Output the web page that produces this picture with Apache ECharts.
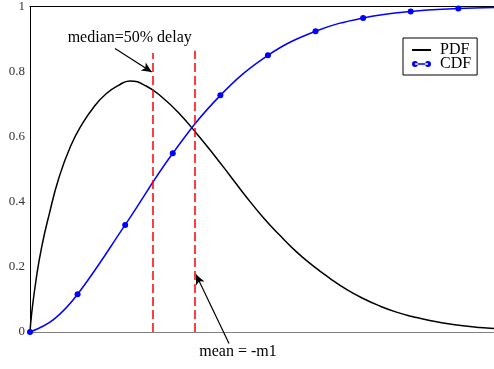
<!DOCTYPE html>
<html>
<head>
<meta charset="utf-8">
<title>PDF / CDF</title>
<script src="https://cdn.jsdelivr.net/npm/echarts@6/dist/echarts.min.js"></script>
<style>
  html, body { margin: 0; padding: 0; background: #fff; }
  #chartBox { width: 494px; height: 369px; }
</style>
</head>
<body>
<div id="chartBox"></div>
<script>
// PDF curve (x in marker steps)
var pdfX = [0, 0.035, 0.126, 0.245, 0.406, 0.6, 0.85, 1.1, 1.35, 1.6, 1.85, 2.1, 2.45, 2.8, 3.15, 3.5, 3.85, 4.2, 4.55, 4.9, 5.25, 5.6, 5.95, 6.3, 6.65, 7.0, 7.35, 7.7, 8.05, 8.4, 8.75, 9.1, 9.45, 9.75];
var pdfY = [0, 0.057, 0.159, 0.261, 0.363, 0.47, 0.57, 0.64, 0.693, 0.732, 0.757, 0.771, 0.755, 0.718, 0.669, 0.61, 0.547, 0.481, 0.414, 0.352, 0.297, 0.246, 0.203, 0.165, 0.131, 0.103, 0.08, 0.061, 0.047, 0.035, 0.026, 0.019, 0.014, 0.011];

// CDF curve, markers sit on the whole steps
var cdfX = [0, 0.5, 1, 2, 3, 4, 5, 6, 7, 8, 9, 9.75];
var cdfY = [0, 0.039, 0.116, 0.329, 0.549, 0.727, 0.85, 0.924, 0.965, 0.985, 0.994, 0.997];

// dashed markers: median and mean
var medianX = 2.585, medianTop = 0.857;
var meanX = 3.467, meanTop = 0.864;

// annotation arrows [tail, head]
var medianArrow = [[1.786, 0.871], [2.557, 0.799]];
var meanArrow = [[4.182, -0.035], [3.488, 0.177]];
var medianText = [2.095, 0.905];
var meanText = [4.371, -0.061];

var font = "'Liberation Serif', 'Times New Roman', serif";

// legend icon for CDF: line with a dot on each end
var cdfIcon =
  "path://M3,2.25 L16,2.25 L16,3.75 L3,3.75 Z" +
  " M0,3 A3,3 0 1,0 6,3 A3,3 0 1,0 0,3 Z" +
  " M13,3 A3,3 0 1,0 19,3 A3,3 0 1,0 13,3 Z";

var chart = echarts.init(document.getElementById("chartBox"));

var pdfData = pdfX.map(function (x, i) {
  return [x, pdfY[i]];
});
var cdfData = cdfX.map(function (x, i) {
  var item = { value: [x, cdfY[i]] };
  if (!Number.isInteger(x)) item.symbol = "none"; // only whole steps get a dot
  return item;
});

var option = {
  animation: false,
  textStyle: { fontFamily: font },
  grid: { left: 30, top: 5, right: 0, bottom: 37 },
  legend: {
    data: [
      { name: "PDF", itemStyle: { opacity: 0 } },
      { name: "CDF", icon: cdfIcon },
    ],
    orient: "vertical",
    left: 403,
    top: 38,
    padding: [4, 6, 3, 8],
    itemGap: -2,
    itemWidth: 19,
    itemHeight: 6,
    borderColor: "#000",
    borderWidth: 1,
    backgroundColor: "#fff",
    textStyle: { fontFamily: font, fontSize: 16, color: "#000", padding: [0, 0, 0, 4] },
  },
  xAxis: [
    {
      type: "value",
      min: 0,
      max: 9.75,
      axisLine: { lineStyle: { color: "#808080", width: 1 } },
      axisTick: { show: false },
      axisLabel: { show: false },
      splitLine: { show: false },
    },
    {
      // top frame line only
      type: "value",
      position: "top",
      min: 0,
      max: 9.75,
      axisLine: { show: true, lineStyle: { color: "#000", width: 1 } },
      axisTick: { show: false },
      axisLabel: { show: false },
      splitLine: { show: false },
    },
  ],
  yAxis: {
    type: "value",
    min: 0,
    max: 1,
    interval: 0.2,
    axisLine: { show: true, lineStyle: { color: "#000", width: 1 } },
    axisTick: { show: false },
    splitLine: { show: false },
    axisLabel: { fontFamily: font, fontSize: 13, color: "#333", margin: 5 },
  },
  series: [
    {
      name: "PDF",
      type: "line",
      data: pdfData,
      smooth: 0.5,
      showSymbol: false,
      symbol: "none",
      lineStyle: { color: "#000", width: 1.5 },
      itemStyle: { color: "#000" },
    },
    {
      name: "CDF",
      type: "line",
      data: cdfData,
      smooth: 0.4,
      symbol: "circle",
      symbolSize: 6,
      lineStyle: { color: "#0000ff", width: 1.5 },
      itemStyle: { color: "#0000ff" },
    },
    {
      // red dashed median / mean lines
      name: "marks",
      type: "line",
      data: [],
      markLine: {
        silent: true,
        symbol: ["none", "none"],
        label: { show: false },
        lineStyle: { color: "#ff0000", width: 1.5, type: [9, 4] },
        data: [
          [{ coord: [medianX, 0] }, { coord: [medianX, medianTop] }],
          [{ coord: [meanX, 0] }, { coord: [meanX, meanTop] }],
        ],
      },
    },
  ],
};

chart.setOption(option);

// arrows and their texts placed through the axes
function px(p) {
  return chart.convertToPixel({ gridIndex: 0 }, p);
}
function arrow(a) {
  var t = px(a[0]), h = px(a[1]);
  return [{ x: t[0], y: t[1] }, { x: h[0], y: h[1] }];
}
var mt = px(medianText), nt = px(meanText);

chart.setOption({
  series: [
    {},
    {},
    {},
    {
      name: "arrows",
      type: "line",
      data: [],
      markLine: {
        silent: true,
        symbol: ["none", "arrow"],
        symbolSize: [7, 10],
        label: { show: false },
        lineStyle: { color: "#000", width: 1.2, type: "solid" },
        data: [arrow(medianArrow), arrow(meanArrow)],
      },
    },
  ],
  graphic: [
    {
      type: "text",
      x: mt[0],
      y: mt[1],
      style: { text: "median=50% delay", font: "16px " + font, fill: "#000", align: "center", verticalAlign: "middle" },
    },
    {
      type: "text",
      x: nt[0],
      y: nt[1],
      style: { text: "mean = -m1", font: "16px " + font, fill: "#000", align: "center", verticalAlign: "middle" },
    },
  ],
});
</script>
</body>
</html>
